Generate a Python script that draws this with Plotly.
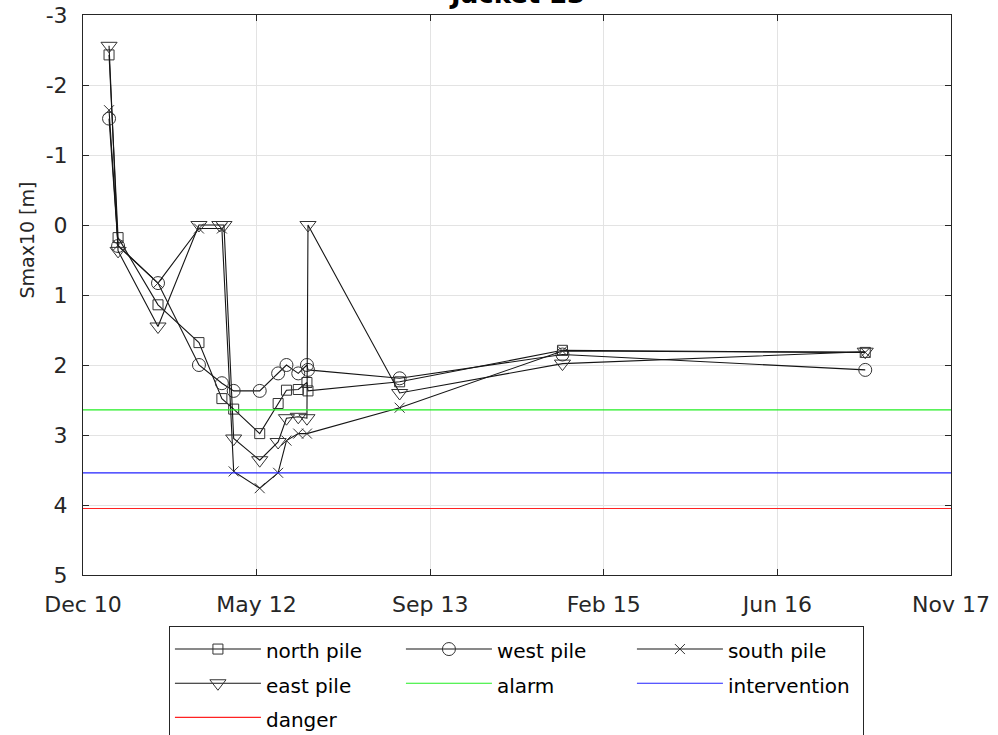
import plotly.graph_objects as go

# Messzeitpunkte je Pfahl
datum_nord = ["2011-03-13", "2011-04-08", "2011-08-01", "2011-11-27", "2012-02-01", "2012-03-06",
              "2012-05-20", "2012-07-12", "2012-08-05", "2012-09-08", "2012-10-03", "2012-10-06",
              "2013-06-27", "2014-10-09", "2017-02-27"]
datum_west = datum_nord
datum_sued = ["2011-03-13", "2011-04-08", "2011-08-01", "2011-11-27", "2012-02-01", "2012-03-06",
              "2012-05-20", "2012-07-12", "2012-08-05", "2012-09-08", "2012-10-03",
              "2013-06-27", "2014-10-09", "2017-02-27"]
datum_ost = ["2011-03-13", "2011-04-08", "2011-08-01", "2011-11-27", "2012-01-26", "2012-02-07",
             "2012-03-06", "2012-05-20", "2012-07-12", "2012-08-05", "2012-09-08", "2012-10-03",
             "2012-10-06", "2013-06-27", "2014-10-09", "2017-02-27"]

# Smax10 [m]
smax_nord = [-2.43, 0.18, 1.14, 1.68, 2.48, 2.63, 2.98, 2.55, 2.36, 2.35, 2.25, 2.37, 2.24, 1.79, 1.82]
smax_west = [-1.52, 0.30, 0.83, 2.00, 2.26, 2.37, 2.37, 2.12, 2.00, 2.12, 2.00, 2.07, 2.19, 1.85, 2.07]
smax_sued = [-1.64, 0.29, 0.83, 0.05, 0.05, 3.52, 3.76, 3.54, 3.08, 2.98, 2.98, 2.61, 1.80, 1.82]
smax_ost = [-2.56, 0.37, 1.45, 0.00, 0.00, 0.00, 3.05, 3.36, 3.10, 2.76, 2.74, 2.76, 0.00, 2.40, 1.98, 1.81]

# Grenzwerte
grenze_datum = ["2010-12-28", "2017-11-01"]
alarm = 2.64
eingriff = 3.54
gefahr = 4.05

# Achsen
x_ticks = ["2010-12-28", "2012-05-11", "2013-09-23", "2015-02-05", "2016-06-19", "2017-11-01"]
x_labels = ["Dec 10", "May 12", "Sep 13", "Feb 15", "Jun 16", "Nov 17"]
y_ticks = [-3, -2, -1, 0, 1, 2, 3, 4, 5]
y_labels = ["-3", "-2", "-1", "0", "1", "2", "3", "4", "5"]

schrift = "DejaVu Sans, Liberation Sans, sans-serif"
achsfarbe = "#262626"

fig = go.Figure()

pfaehle = [
    ("north pile", datum_nord, smax_nord, "square-open", 10),
    ("west pile", datum_west, smax_west, "circle-open", 13),
    ("south pile", datum_sued, smax_sued, "x-thin-open", 10),
    ("east pile", datum_ost, smax_ost, "triangle-down-open", 14),
]
for name, x, y, symbol, groesse in pfaehle:
    fig.add_scatter(x=x, y=y, mode="lines+markers",
                    name=f"<span style='font-size:20px'>{name}</span>",
                    line=dict(color="#151515", width=1.1),
                    marker=dict(symbol=symbol, size=groesse, color="#333333",
                                line=dict(width=1, color="#333333")))

for name, wert, farbe in [("alarm", alarm, "#22ee22"), ("intervention", eingriff, "#2222ff"),
                          ("danger", gefahr, "#ff2222")]:
    fig.add_scatter(x=grenze_datum, y=[wert, wert], mode="lines",
                    name=f"<span style='font-size:20px'>{name}</span>",
                    line=dict(color=farbe, width=1.2))

fig.update_xaxes(type="date", range=[grenze_datum[0], grenze_datum[1]],
                 tickvals=x_ticks, ticktext=x_labels, automargin=False,
                 showgrid=True, gridcolor="#e3e3e3", gridwidth=1,
                 showline=True, linecolor=achsfarbe, linewidth=1, mirror="ticks",
                 ticks="inside", ticklen=6, tickcolor=achsfarbe, ticklabelstandoff=10,
                 tickfont=dict(size=22, color=achsfarbe), zeroline=False)
fig.update_yaxes(range=[5, -3], tickvals=y_ticks, ticktext=y_labels, automargin=False,
                 showgrid=True, gridcolor="#e3e3e3", gridwidth=1,
                 showline=True, linecolor=achsfarbe, linewidth=1, mirror="ticks",
                 ticks="inside", ticklen=6, tickcolor=achsfarbe, ticklabelstandoff=10,
                 tickfont=dict(size=22, color=achsfarbe), zeroline=False)

fig.update_layout(
    width=998, height=735,
    margin=dict(l=83, r=47, t=15, b=160, autoexpand=False),
    paper_bgcolor="white", plot_bgcolor="white",
    font=dict(family=schrift, color=achsfarbe),
    showlegend=True,
    legend=dict(orientation="h", x=0.099, xanchor="left", y=-0.091, yanchor="top",
                bordercolor=achsfarbe, borderwidth=1, bgcolor="white", itemwidth=86,
                font=dict(size=24, color="black"), entrywidth=130, entrywidthmode="pixels"),
    annotations=[
        dict(text="<b>Jacket E3</b>", xref="paper", yref="paper", x=0.5, y=1.0,
             xanchor="center", yanchor="bottom", yshift=4, showarrow=False,
             font=dict(size=26, color="black")),
        dict(text="Smax10 [m]", xref="paper", yref="paper", x=-0.064, y=0.598,
             xanchor="center", yanchor="middle", textangle=-90, showarrow=False,
             font=dict(size=19, color=achsfarbe)),
    ],
)

fig.write_html("out.html", config={"displayModeBar": False},
               post_script="document.body.style.margin='0';")
